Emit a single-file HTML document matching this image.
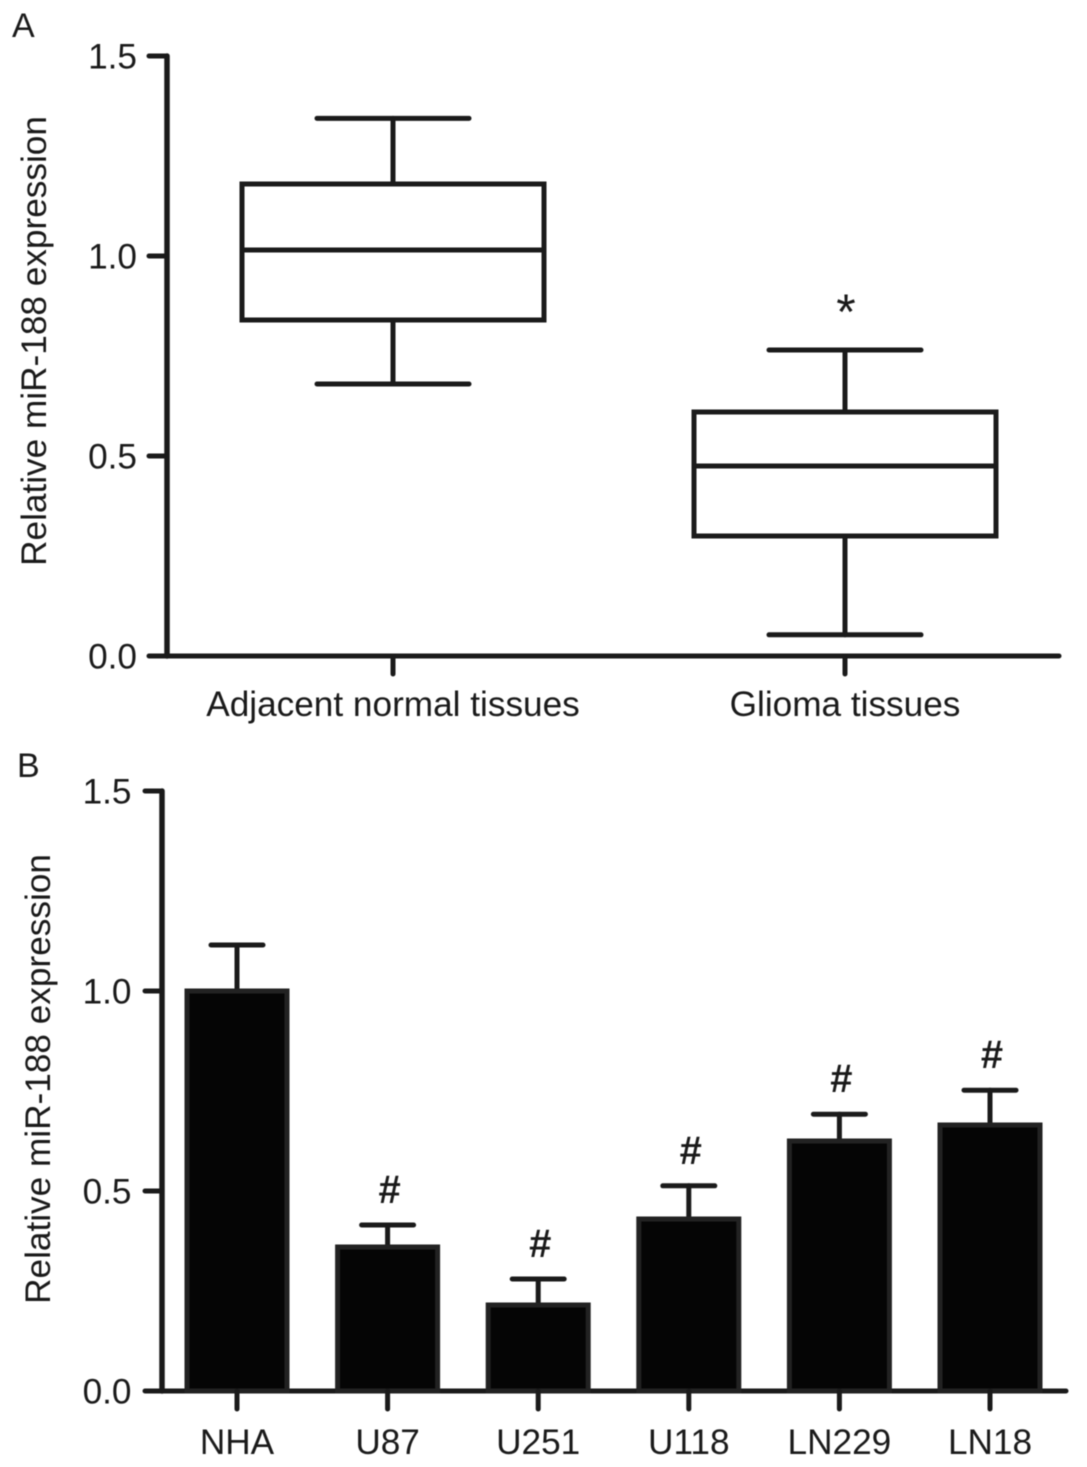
<!DOCTYPE html>
<html>
<head>
<meta charset="utf-8">
<style>
html,body{margin:0;padding:0;background:#fff;}
svg{display:block;filter:blur(0.45px);}
text{font-family:"Liberation Sans",sans-serif;fill:#1a1a1a;}
</style>
</head>
<body>
<svg id="fig" width="1087" height="1467" viewBox="0 0 1087 1467" xmlns="http://www.w3.org/2000/svg"></svg>
<script>
// Panel A data
const boxCategories = ["Adjacent normal tissues", "Glioma tissues"];
const boxMin = [0.68, 0.053];
const boxQ1 = [0.84, 0.30];
const boxMedian = [1.015, 0.475];
const boxQ3 = [1.18, 0.61];
const boxMax = [1.344, 0.765];
const boxMarks = ["", "*"];
const yTicksA = [0.0, 0.5, 1.0, 1.5];
// Panel B data
const barCategories = ["NHA", "U87", "U251", "U118", "LN229", "LN18"];
const barValues = [1.0, 0.36, 0.215, 0.43, 0.625, 0.665];
const barErrors = [0.115, 0.055, 0.065, 0.083, 0.067, 0.087];
const barMarks = ["", "#", "#", "#", "#", "#"];
const yTicksB = [0.0, 0.5, 1.0, 1.5];

const NS = "http://www.w3.org/2000/svg";
const svg = document.getElementById("fig");
const ink = "#1a1a1a";
const labelSize = 35.2;
function add(tag, attrs, txt) {
  const e = document.createElementNS(NS, tag);
  for (const k in attrs) e.setAttribute(k, attrs[k]);
  if (txt !== undefined) e.textContent = txt;
  svg.appendChild(e);
  return e;
}
function line(x1, y1, x2, y2, w) {
  return add("line", {x1, y1, x2, y2, stroke: ink, "stroke-width": w, "stroke-linecap": "round"});
}
const yA = v => 656 - v * (656 - 56) / 1.5;
const xA = i => 393 + i * 452;
const yB = v => 1391 - v * (1391 - 791) / 1.5;
const xB = i => 237 + i * 150.6;

// Panel letters
let el = add("text", {x: 12, y: 37, "font-size": 34}, "A");


el = add("text", {x: 17, y: 777, "font-size": 34}, "B");



// Panel A axes
el = line(167, 56, 167, 656, 5.5);


el = line(167, 656, 1059, 656, 5);


yTicksA.forEach(t => {
  const k = line(149, yA(t), 167, yA(t), 5);
  
  
  const l = add("text", {x: 137, y: yA(t) + 12.5, "font-size": labelSize, "text-anchor": "end"}, t.toFixed(1));
  
  
});
el = add("text", {x: 0, y: 0, "font-size": labelSize, "text-anchor": "middle", transform: "translate(46,341) rotate(-90)"}, "Relative miR-188 expression");



// Panel A boxes
boxCategories.forEach((c, i) => {
  const x = xA(i), hw = 151, cap = 76;
  const w1 = line(x, yA(boxMax[i]), x, yA(boxQ3[i]), 5);
  
  
  const c1 = line(x - cap, yA(boxMax[i]), x + cap, yA(boxMax[i]), 5);
  
  
  const w2 = line(x, yA(boxQ1[i]), x, yA(boxMin[i]), 5);
  
  
  const c2 = line(x - cap, yA(boxMin[i]), x + cap, yA(boxMin[i]), 5);
  
  
  const r = add("rect", {x: x - hw, y: yA(boxQ3[i]), width: hw * 2, height: yA(boxQ1[i]) - yA(boxQ3[i]), fill: "#fff", stroke: ink, "stroke-width": 5});
  
  
  const m = line(x - hw, yA(boxMedian[i]), x + hw, yA(boxMedian[i]), 5);
  
  
  const k = line(x, 656, x, 674, 5);
  
  
  const l = add("text", {x: x, y: 716, "font-size": labelSize, "text-anchor": "middle"}, c);
  
  
  if (boxMarks[i]) {
    const s = add("text", {x: x + 1, y: yA(boxMax[i]) - 21, "font-size": 50, "text-anchor": "middle"}, boxMarks[i]);
    
    
  }
});

// Panel B axes
el = line(162, 791, 162, 1391, 5.5);


el = line(162, 1391, 1066, 1391, 5);


yTicksB.forEach(t => {
  const k = line(145, yB(t), 162, yB(t), 5);
  
  
  const l = add("text", {x: 131.5, y: yB(t) + 12.5, "font-size": labelSize, "text-anchor": "end"}, t.toFixed(1));
  
  
});
el = add("text", {x: 0, y: 0, "font-size": labelSize, "text-anchor": "middle", transform: "translate(50,1079) rotate(-90)"}, "Relative miR-188 expression");



// Panel B bars
barCategories.forEach((c, i) => {
  const x = xB(i), hw = 50, cap = 26;
  const top = yB(barValues[i] + barErrors[i]);
  const e1 = line(x, top, x, yB(barValues[i]), 5);
  
  
  const e2 = line(x - cap, top, x + cap, top, 5);
  
  
  const r = add("rect", {x: x - hw, y: yB(barValues[i]), width: hw * 2, height: 1391 - yB(barValues[i]), fill: "#050505", stroke: "#222", "stroke-width": 5});
  
  
  const k = line(x, 1391, x, 1409, 5);
  
  
  const l = add("text", {x: x, y: 1454, "font-size": labelSize, "text-anchor": "middle"}, c);
  
  
  if (barMarks[i]) {
    const s = add("text", {x: x + 2, y: top - 22, "font-size": 40, "font-weight": "bold", "text-anchor": "middle"}, barMarks[i]);
    
    
  }
});
</script>
</body>
</html>
